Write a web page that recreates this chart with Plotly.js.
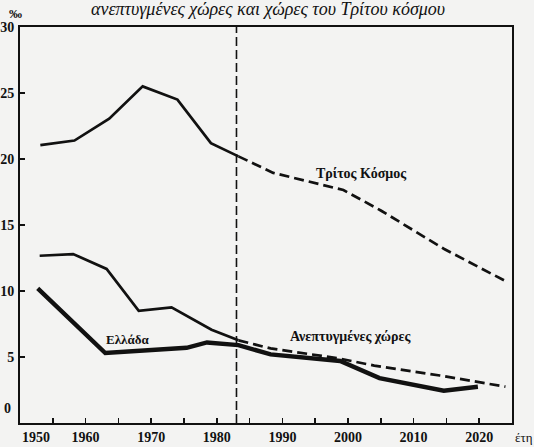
<!DOCTYPE html>
<html><head><meta charset="utf-8">
<script src="https://cdn.plot.ly/plotly-3.0.1.min.js"></script>
<style>html,body{margin:0;padding:0;background:#f3f3f2;}</style>
</head><body>
<div id="chart" style="width:534px;height:447px;"></div>
<script>
// Third world (Τρίτος Κόσμος)
const yearsTritosObs = [1953.1, 1958.3, 1963.6, 1968.7, 1974.0, 1979.1, 1983.3];
const rateTritosObs  = [21.05, 21.4, 23.05, 25.5, 24.5, 21.2, 20.2];
const yearsTritosProj = [1983.3, 1988.6, 1999.3, 2005.0, 2014.6, 2024.2];
const rateTritosProj  = [20.2, 18.95, 17.65, 16.1, 13.2, 10.7];
// Developed countries (Ανεπτυγμένες χώρες)
const yearsAneptObs = [1953.0, 1958.1, 1963.2, 1968.1, 1973.1, 1979.2, 1983.3];
const rateAneptObs  = [12.67, 12.8, 11.67, 8.5, 8.76, 7.07, 6.26];
const yearsAneptProj = [1983.3, 1988.2, 1998.5, 2004.0, 2014.0, 2024.0];
const rateAneptProj  = [6.26, 5.65, 4.9, 4.35, 3.6, 2.75];
// Greece (Ελλάδα)
const yearsGreece = [1952.7, 1963.0, 1975.4, 1978.5, 1983.3, 1988.2, 1998.8, 2004.8, 2014.6, 2019.8];
const rateGreece  = [10.2, 5.3, 5.7, 6.1, 5.9, 5.2, 4.7, 3.4, 2.45, 2.75];
// Axis ticks
const xTickVals = [1960, 1970, 1980, 1990, 2000, 2010, 2020];
const yTickVals = [5, 10, 15, 20, 25, 30];
const dividerYear = 1983;

const serif = "Liberation Serif, Times New Roman, serif";
const ink = "#111";

const traces = [
  {x: yearsTritosObs, y: rateTritosObs, mode: "lines", line: {color: ink, width: 2.7}},
  {x: yearsTritosProj, y: rateTritosProj, mode: "lines", line: {color: ink, width: 2.7, dash: "10px,5px"}},
  {x: yearsAneptObs, y: rateAneptObs, mode: "lines", line: {color: ink, width: 2.7}},
  {x: yearsAneptProj, y: rateAneptProj, mode: "lines", line: {color: ink, width: 2.7, dash: "10px,5px"}},
  {x: yearsGreece, y: rateGreece, mode: "lines", line: {color: ink, width: 4.4}}
];

const tickFont = {family: serif, size: 14, color: ink, weight: "bold"};

const layout = {
  width: 534, height: 447,
  margin: {l: 20, r: 22, t: 27, b: 24},
  paper_bgcolor: "#f3f3f2", plot_bgcolor: "#f3f3f2",
  showlegend: false,
  font: {family: serif, color: ink, size: 14},
  xaxis: {
    range: [1950, 2025], tickvals: xTickVals, ticks: "inside", ticklen: 5, tickwidth: 1.5, tickcolor: ink,
    minor: {dtick: 5, tick0: 1950, ticks: "inside", ticklen: 5, tickwidth: 1.5, tickcolor: ink},
    showline: true, linewidth: 2, linecolor: ink, mirror: true, showgrid: false, zeroline: false,
    tickfont: tickFont, automargin: false, fixedrange: true
  },
  yaxis: {
    range: [0, 30], tickvals: yTickVals, ticks: "inside", ticklen: 5, tickwidth: 1.5, tickcolor: ink,
    showline: true, linewidth: 2, linecolor: ink, mirror: true, showgrid: false, zeroline: false,
    tickfont: tickFont, automargin: false, fixedrange: true,
    ticklabelstandoff: 1
  },
  shapes: [
    {type: "line", xref: "x", yref: "paper", x0: dividerYear, x1: dividerYear, y0: 0, y1: 1,
     line: {color: ink, width: 1.6, dash: "9px,4px"}}
  ],
  annotations: [
    {text: "ανεπτυγμένες χώρες και χώρες του Τρίτου κόσμου", xref: "paper", yref: "paper",
     x: 0.504, y: 1.045, xanchor: "center", yanchor: "middle", showarrow: false,
     font: {family: serif, size: 18, style: "italic", color: ink}},
    {text: "‰", xref: "paper", yref: "paper", x: -0.01, y: 1.035, xanchor: "center", yanchor: "middle",
     showarrow: false, font: {family: serif, size: 13, weight: "bold", color: ink}},
    {text: "0", xref: "paper", yref: "y", x: -0.025, y: 1.1, xanchor: "center", yanchor: "middle",
     showarrow: false, font: tickFont},
    {text: "1950", xref: "x", yref: "paper", x: 1952.4, y: -0.012, xanchor: "center", yanchor: "top",
     showarrow: false, font: tickFont},
    {text: "έτη", xref: "paper", yref: "paper", x: 1.024, y: -0.012, xanchor: "center", yanchor: "top",
     showarrow: false, font: {family: serif, size: 13, color: ink}},
    {text: "Τρίτος Κόσμος", xref: "x", yref: "y", x: 2002.0, y: 18.9, xanchor: "center", yanchor: "middle",
     showarrow: false, font: {family: serif, size: 14, weight: "bold", color: ink}},
    {text: "Ανεπτυγμένες χώρες", xref: "x", yref: "y", x: 2000.5, y: 6.55, xanchor: "center", yanchor: "middle",
     showarrow: false, font: {family: serif, size: 14, weight: "bold", color: ink}},
    {text: "Ελλάδα", xref: "x", yref: "y", x: 1966.4, y: 6.3, xanchor: "center", yanchor: "middle",
     showarrow: false, font: {family: serif, size: 13, weight: "bold", color: ink}}
  ]
};

Plotly.newPlot("chart", traces, layout, {displayModeBar: false, staticPlot: true});
</script>
</body></html>
